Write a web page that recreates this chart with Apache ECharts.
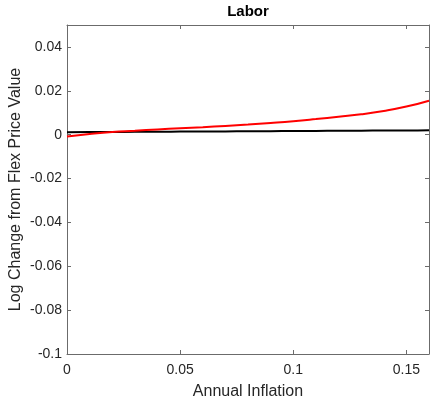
<!DOCTYPE html>
<html>
<head>
<meta charset="utf-8">
<script src="https://cdn.jsdelivr.net/npm/echarts@6/dist/echarts.min.js"></script>
<style>
html,body{margin:0;padding:0;background:#fff;}
#c{width:430px;height:402px;}
</style>
</head>
<body>
<div id="c"></div>
<script>
var inflation = [0, 0.01, 0.02, 0.03, 0.04, 0.05, 0.06, 0.07, 0.08, 0.09, 0.10, 0.11, 0.12, 0.13, 0.14, 0.15, 0.16];
var redSeries = [-0.0008, 0.0003, 0.0012, 0.0018, 0.0024, 0.0029, 0.0034, 0.0040, 0.0046, 0.0053, 0.0061, 0.0071, 0.0082, 0.0093, 0.0108, 0.0128, 0.0155];
var blackSeries = [0.0011, 0.0012, 0.0012, 0.0013, 0.0013, 0.0014, 0.0015, 0.0015, 0.0016, 0.0016, 0.0017, 0.0017, 0.0018, 0.0018, 0.0019, 0.0019, 0.0020];
var xTicks = [0, 0.05, 0.1, 0.15];
var yTicks = [-0.1, -0.08, -0.06, -0.04, -0.02, 0, 0.02, 0.04];

function zip(xs, ys){ return xs.map(function(x,i){ return [x, ys[i]]; }); }
function fmt(v){ return String(+(+v).toFixed(4)); }

var axisColor = '#6b6b6b';
var font = 'Liberation Sans, Arial, Helvetica, sans-serif';

var chart = echarts.init(document.getElementById('c'), null, {renderer:'canvas'});
chart.setOption({
  animation: false,
  backgroundColor: '#fff',
  title: {
    text: 'Labor', left: 248, top: 4, padding: 0, textAlign: 'center',
    textStyle: {fontFamily: font, fontSize: 15, fontWeight: 'bold', color: '#000'}
  },
  grid: {left: 67, right: 1, top: 25, bottom: 48, containLabel: false, outerBoundsMode: 'none'},
  xAxis: [{
    type: 'value', min: 0, max: 0.16, interval: 0.05, position: 'bottom',
    name: 'Annual Inflation', nameLocation: 'middle', nameGap: 30, nameMoveOverlap: false,
    nameTextStyle: {fontFamily: font, fontSize: 16, color: '#262626'},
    axisLine: {show: true, onZero: false, lineStyle: {color: axisColor, width: 1}},
    axisTick: {show: true, inside: true, length: 4, lineStyle: {color: axisColor}},
    axisLabel: {fontFamily: font, fontSize: 14, color: '#262626', margin: 9, showMaxLabel: false,
      formatter: function(v){ return xTicks.some(function(t){return Math.abs(t-v)<1e-9;}) ? fmt(v) : ''; }},
    splitLine: {show: false}
  },{
    type: 'value', min: 0, max: 0.16, interval: 0.05, position: 'top',
    axisLine: {show: true, onZero: false, lineStyle: {color: axisColor, width: 1}},
    axisTick: {show: true, inside: true, length: 4, lineStyle: {color: axisColor}},
    axisLabel: {show: false}, splitLine: {show: false}
  }],
  yAxis: [{
    type: 'value', min: -0.1, max: 0.05, interval: 0.02, position: 'left',
    name: 'Log Change from Flex Price Value', nameLocation: 'middle', nameGap: 43, nameMoveOverlap: false,
    nameTextStyle: {fontFamily: font, fontSize: 16, color: '#262626'},
    axisLine: {show: true, onZero: false, lineStyle: {color: axisColor, width: 1}},
    axisTick: {show: true, inside: true, length: 4, lineStyle: {color: axisColor}},
    axisLabel: {fontFamily: font, fontSize: 14, color: '#262626', margin: 5, showMaxLabel: false,
      formatter: function(v){ return yTicks.some(function(t){return Math.abs(t-v)<1e-9;}) ? fmt(v) : ''; }},
    splitLine: {show: false}
  },{
    type: 'value', min: -0.1, max: 0.05, interval: 0.02, position: 'right',
    axisLine: {show: true, onZero: false, lineStyle: {color: axisColor, width: 1}},
    axisTick: {show: true, inside: true, length: 4, lineStyle: {color: axisColor}},
    axisLabel: {show: false}, splitLine: {show: false}
  }],
  series: [{
    type: 'line', xAxisIndex: 0, yAxisIndex: 0, data: zip(inflation, blackSeries),
    showSymbol: false, smooth: true, lineStyle: {color: '#000', width: 2}, z: 3
  },{
    type: 'line', xAxisIndex: 0, yAxisIndex: 0, data: zip(inflation, redSeries),
    showSymbol: false, smooth: true, lineStyle: {color: '#ff0000', width: 2}, z: 4
  }]
});
</script>
</body>
</html>
